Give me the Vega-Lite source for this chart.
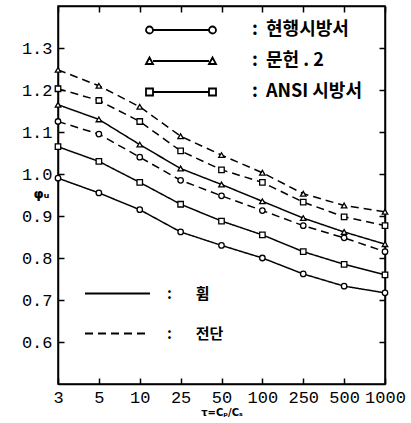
{
  "$schema": "https://vega.github.io/schema/vega-lite/v6.json",
  "width": 327,
  "height": 378,
  "autosize": {"type": "none"},
  "padding": {"left": 58, "top": 6, "right": 26, "bottom": 39},
  "background": "white",
  "config": {"view": {"stroke": "black", "strokeWidth": 1.5}, "font": "Liberation Mono"},
  "data": {"values": [
    {"tau": "3", "method": "현행시방서", "type": "휨", "phi": 0.99},
    {"tau": "5", "method": "현행시방서", "type": "휨", "phi": 0.955},
    {"tau": "10", "method": "현행시방서", "type": "휨", "phi": 0.915},
    {"tau": "25", "method": "현행시방서", "type": "휨", "phi": 0.862},
    {"tau": "50", "method": "현행시방서", "type": "휨", "phi": 0.83},
    {"tau": "100", "method": "현행시방서", "type": "휨", "phi": 0.8},
    {"tau": "250", "method": "현행시방서", "type": "휨", "phi": 0.762},
    {"tau": "500", "method": "현행시방서", "type": "휨", "phi": 0.733},
    {"tau": "1000", "method": "현행시방서", "type": "휨", "phi": 0.717},
    {"tau": "3", "method": "ANSI 시방서", "type": "휨", "phi": 1.065},
    {"tau": "5", "method": "ANSI 시방서", "type": "휨", "phi": 1.03},
    {"tau": "10", "method": "ANSI 시방서", "type": "휨", "phi": 0.98},
    {"tau": "25", "method": "ANSI 시방서", "type": "휨", "phi": 0.928},
    {"tau": "50", "method": "ANSI 시방서", "type": "휨", "phi": 0.888},
    {"tau": "100", "method": "ANSI 시방서", "type": "휨", "phi": 0.855},
    {"tau": "250", "method": "ANSI 시방서", "type": "휨", "phi": 0.815},
    {"tau": "500", "method": "ANSI 시방서", "type": "휨", "phi": 0.785},
    {"tau": "1000", "method": "ANSI 시방서", "type": "휨", "phi": 0.76},
    {"tau": "3", "method": "문헌 . 2", "type": "휨", "phi": 1.165},
    {"tau": "5", "method": "문헌 . 2", "type": "휨", "phi": 1.13},
    {"tau": "10", "method": "문헌 . 2", "type": "휨", "phi": 1.07},
    {"tau": "25", "method": "문헌 . 2", "type": "휨", "phi": 1.013},
    {"tau": "50", "method": "문헌 . 2", "type": "휨", "phi": 0.975},
    {"tau": "100", "method": "문헌 . 2", "type": "휨", "phi": 0.935},
    {"tau": "250", "method": "문헌 . 2", "type": "휨", "phi": 0.895},
    {"tau": "500", "method": "문헌 . 2", "type": "휨", "phi": 0.862},
    {"tau": "1000", "method": "문헌 . 2", "type": "휨", "phi": 0.833},
    {"tau": "3", "method": "현행시방서", "type": "전단", "phi": 1.125},
    {"tau": "5", "method": "현행시방서", "type": "전단", "phi": 1.095},
    {"tau": "10", "method": "현행시방서", "type": "전단", "phi": 1.04},
    {"tau": "25", "method": "현행시방서", "type": "전단", "phi": 0.985},
    {"tau": "50", "method": "현행시방서", "type": "전단", "phi": 0.948},
    {"tau": "100", "method": "현행시방서", "type": "전단", "phi": 0.913},
    {"tau": "250", "method": "현행시방서", "type": "전단", "phi": 0.877},
    {"tau": "500", "method": "현행시방서", "type": "전단", "phi": 0.848},
    {"tau": "1000", "method": "현행시방서", "type": "전단", "phi": 0.815},
    {"tau": "3", "method": "ANSI 시방서", "type": "전단", "phi": 1.203},
    {"tau": "5", "method": "ANSI 시방서", "type": "전단", "phi": 1.175},
    {"tau": "10", "method": "ANSI 시방서", "type": "전단", "phi": 1.125},
    {"tau": "25", "method": "ANSI 시방서", "type": "전단", "phi": 1.055},
    {"tau": "50", "method": "ANSI 시방서", "type": "전단", "phi": 1.01},
    {"tau": "100", "method": "ANSI 시방서", "type": "전단", "phi": 0.98},
    {"tau": "250", "method": "ANSI 시방서", "type": "전단", "phi": 0.933},
    {"tau": "500", "method": "ANSI 시방서", "type": "전단", "phi": 0.898},
    {"tau": "1000", "method": "ANSI 시방서", "type": "전단", "phi": 0.877},
    {"tau": "3", "method": "문헌 . 2", "type": "전단", "phi": 1.248},
    {"tau": "5", "method": "문헌 . 2", "type": "전단", "phi": 1.21},
    {"tau": "10", "method": "문헌 . 2", "type": "전단", "phi": 1.16},
    {"tau": "25", "method": "문헌 . 2", "type": "전단", "phi": 1.09},
    {"tau": "50", "method": "문헌 . 2", "type": "전단", "phi": 1.045},
    {"tau": "100", "method": "문헌 . 2", "type": "전단", "phi": 1.003},
    {"tau": "250", "method": "문헌 . 2", "type": "전단", "phi": 0.953},
    {"tau": "500", "method": "문헌 . 2", "type": "전단", "phi": 0.925},
    {"tau": "1000", "method": "문헌 . 2", "type": "전단", "phi": 0.91}
  ]},
  "resolve": {"axis": {"x": "independent", "y": "independent"}, "scale": {"shape": "independent"}},
  "layer": [
    {
      "mark": {"type": "line", "color": "black", "strokeWidth": 1.5},
      "encoding": {
        "x": {"field": "tau", "type": "ordinal", "sort": ["3","5","10","25","50","100","250","500","1000"],
          "scale": {"type": "point", "padding": 0},
          "axis": {"orient": "bottom", "title": "τ=Cₚ/Cₛ", "titleFont": "DejaVu Sans", "titleFontSize": 10, "titleFontWeight": "bold", "titlePadding": 2,
            "labelAngle": 0, "labelFont": "Liberation Mono", "labelFontSize": 17, "labelColor": "black", "labelPadding": 11,
            "tickSize": -6, "tickColor": "black", "tickWidth": 1.5, "domainColor": "black", "domainWidth": 1.5, "grid": false}},
        "y": {"field": "phi", "type": "quantitative",
          "scale": {"domain": [0.5, 1.4], "nice": false, "zero": false},
          "axis": {"orient": "left", "title": "φᵤ", "titleAngle": 0, "titleFont": "DejaVu Sans", "titleFontSize": 13, "titleFontWeight": "bold",
            "titleX": -17, "titleY": 187, "titleAlign": "center", "titleBaseline": "middle",
            "values": [0.6,0.7,0.8,0.9,1.0,1.1,1.2,1.3], "format": ".1f",
            "labelFont": "Liberation Mono", "labelFontSize": 17, "labelColor": "black", "labelPadding": 12,
            "tickSize": -6, "tickColor": "black", "tickWidth": 1.5, "domainColor": "black", "domainWidth": 1.5, "grid": false}},
        "strokeDash": {"field": "type", "type": "nominal",
          "scale": {"domain": ["휨", "전단"], "range": [[1, 0], [8, 5]]},
          "legend": {"orient": "none", "legendX": 52, "legendY": 280, "title": null, "padding": 0,
            "symbolType": "M-6.5,0H6.5", "symbolSize": 100, "symbolStrokeWidth": 1.8, "symbolStrokeColor": "black",
            "labelExpr": "':\u00a0\u00a0\u00a0\u00a0\u00a0\u00a0\u00a0' + datum.label", "labelFont": "Noto Sans CJK KR", "labelFontSize": 15, "labelFontWeight": "bold",
            "labelOffset": 42, "rowPadding": 24, "labelColor": "black"}},
        "detail": {"field": "method", "type": "nominal"}
      }
    },
    {
      "mark": {"type": "point", "filled": false, "fill": "white", "stroke": "black", "strokeWidth": 1.3, "size": 30, "opacity": 1},
      "encoding": {
        "x": {"field": "tau", "type": "ordinal", "sort": ["3","5","10","25","50","100","250","500","1000"],
          "axis": {"orient": "top", "title": null, "labels": false, "tickSize": -6, "tickColor": "black", "tickWidth": 1.5, "domainColor": "black", "domainWidth": 1.5, "grid": false}},
        "y": {"field": "phi", "type": "quantitative",
          "axis": {"orient": "right", "title": null, "labels": false, "values": [0.6,0.7,0.8,0.9,1.0,1.1,1.2,1.3],
            "tickSize": -6, "tickColor": "black", "tickWidth": 1.5, "domainColor": "black", "domainWidth": 1.5, "grid": false}},
        "shape": {"field": "method", "type": "nominal",
          "scale": {"domain": ["현행시방서", "문헌 . 2", "ANSI 시방서"], "range": ["circle", "triangle-up", "square"]},
          "legend": null}
      }
    },
    {
      "mark": {"type": "point", "filled": false, "stroke": "black", "strokeWidth": 1.8, "size": 100, "opacity": 0},
      "encoding": {
        "x": {"field": "tau", "type": "ordinal", "sort": ["3","5","10","25","50","100","250","500","1000"], "axis": null},
        "y": {"field": "phi", "type": "quantitative", "axis": null},
        "shape": {"field": "method", "type": "nominal",
          "scale": {"domain": ["현행시방서", "문헌 . 2", "ANSI 시방서"],
            "range": [
              "M-5.6,0L5.6,0M-7,0A0.7,0.7,0,1,0,-5.6,0A0.7,0.7,0,1,0,-7,0M5.6,0A0.7,0.7,0,1,0,7,0A0.7,0.7,0,1,0,5.6,0",
              "M-5.6,0L5.6,0M-7,0.6L-6.3,-0.7L-5.6,0.6ZM5.6,0.6L6.3,-0.7L7,0.6Z",
              "M-5.6,0L5.6,0M-7,-0.7H-5.6V0.7H-7ZM5.6,-0.7H7V0.7H5.6Z"]},
          "legend": {"orient": "none", "legendX": 114, "legendY": 15, "title": null, "padding": 0,
            "symbolSize": 100, "symbolStrokeWidth": 1.8, "symbolStrokeColor": "black", "symbolFillColor": "white", "symbolOpacity": 1,
            "labelExpr": "':\u00a0\u00a0' + datum.label", "labelFont": "Noto Sans CJK KR", "labelFontSize": 18, "labelFontWeight": "bold",
            "labelOffset": 62, "rowPadding": 13, "labelColor": "black"}}
      }
    }
  ]
}
